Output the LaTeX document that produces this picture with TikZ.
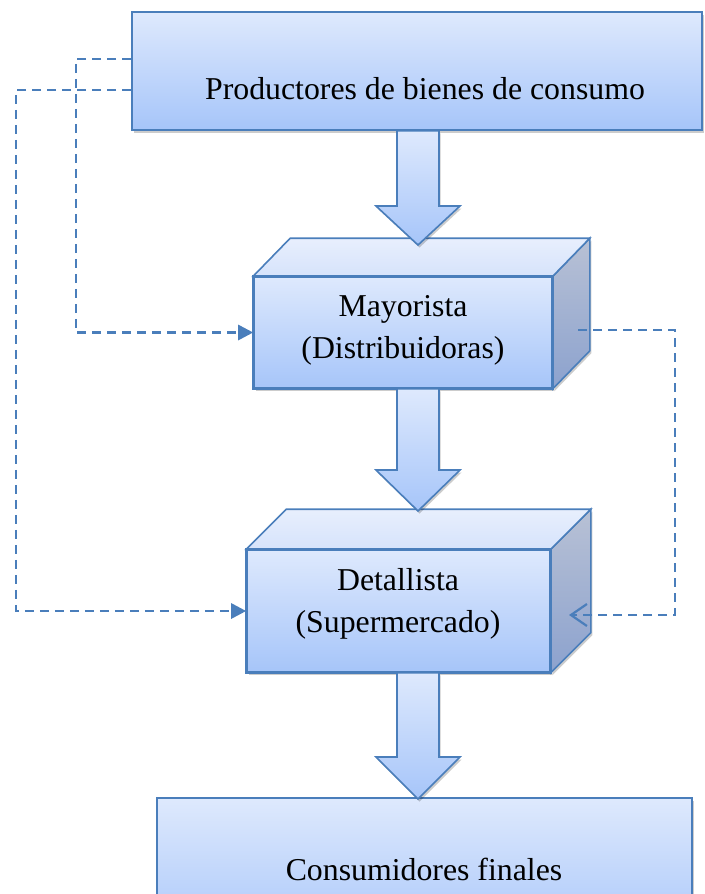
\documentclass[tikz,border=0pt]{standalone}
\usepackage{fontspec}
\setmainfont{Liberation Serif}
\usetikzlibrary{arrows.meta,calc,shadows}

\definecolor{edge}{RGB}{74,126,187}
\definecolor{fillhi}{RGB}{222,233,253}
\definecolor{filllo}{RGB}{166,197,249}
\definecolor{tophi}{RGB}{232,239,253}
\definecolor{toplo}{RGB}{214,227,251}
\definecolor{sidehi}{RGB}{184,193,213}
\definecolor{sidelo}{RGB}{140,162,206}

\tikzset{
  softshadow/.style={drop shadow={shadow xshift=1.5pt,shadow yshift=-2.5pt,fill=black,opacity=.2}},
  panel/.style={rectangle,draw=edge,line width=1.6pt,top color=fillhi,bottom color=filllo,inner sep=0pt,softshadow},
  cubetop/.style={draw=edge,line width=1.6pt,line join=miter,top color=tophi,bottom color=toplo},
  cubeside/.style={draw=edge,line width=1.6pt,line join=miter,top color=sidehi,bottom color=sidelo,softshadow},
  blockarrow/.style={draw=edge,line width=1.6pt,line join=miter,top color=fillhi,bottom color=filllo,softshadow},
  flow/.style={draw=edge,line width=2.8pt,dash pattern=on 9pt off 6pt},
  txt/.style={font=\fontsize{31.8}{42}\selectfont,inner sep=0pt,anchor=base}
}

% block arrow from the tail anchor #1 down to the tip #2, head length #3
\newcommand{\flowarrow}[3]{%
  \filldraw[blockarrow] let \p1=(#1), \p2=(#2) in
    (\x2-21pt,\y1) -- (\x2-21pt,\y2+#3) -- (\x2-42pt,\y2+#3) -- (\x2,\y2)
    -- (\x2+42pt,\y2+#3) -- (\x2+21pt,\y2+#3) -- (\x2+21pt,\y1) -- cycle;}

\begin{document}
\begin{tikzpicture}[x=1pt,y=-1pt]
\useasboundingbox (0,0) rectangle (704,894);
\clip (0,0) rectangle (704,894);

% producers
\node[panel,minimum width=570pt,minimum height=118pt] (prod) at (417,71) {};
\node[txt] (prodtxt) at (425,99) {Productores de bienes de consumo};

% wholesaler cube
\node[panel,minimum width=298pt,minimum height=111pt] (may) at (403,332.5) {};
\filldraw[cubeside] (may.north east) -- ++(37,-38) -- ($(may.south east)+(37,-38)$) -- (may.south east) -- cycle;
\filldraw[cubetop] (may.north west) -- ++(37,-38) -- ($(may.north east)+(37,-38)$) -- (may.north east) -- cycle;
\draw[edge,line width=1.6pt] (may.north west) rectangle (may.south east);
\node[txt] (maytxt) at (403,316) {Mayorista};
\node[txt] (maytxtb) at (403,358) {(Distribuidoras)};

% retailer cube
\node[panel,minimum width=303pt,minimum height=122pt] (det) at (398.5,611) {};
\filldraw[cubeside] (det.north east) -- ++(40,-40) -- ($(det.south east)+(40,-40)$) -- (det.south east) -- cycle;
\filldraw[cubetop] (det.north west) -- ++(40,-40) -- ($(det.north east)+(40,-40)$) -- (det.north east) -- cycle;
\draw[edge,line width=1.6pt] (det.north west) rectangle (det.south east);
\node[txt] (dettxt) at (398,590) {Detallista};
\node[txt] (dettxtb) at (398,632) {(Supermercado)};

% final consumers
\node[panel,minimum width=535pt,minimum height=150pt] (cons) at (424.5,873) {};
\node[txt] (constxt) at (424,880) {Consumidores finales};

% block arrows between the stages
\coordinate (maytip) at (418,245);
\coordinate (dettip) at (418,511);
\coordinate (constip) at (418,799);
\flowarrow{prod.south}{maytip}{39pt}
\flowarrow{may.south}{dettip}{41pt}
\flowarrow{det.south}{constip}{42pt}

% dashed direct channels
\coordinate (mayside) at (578,330);
\coordinate (detside) at (569,615);
\draw[flow,-{Triangle[length=15pt,width=15pt]}] (prod.west |- 0,59) -- (76,59) |- (may.west);
\draw[flow,-{Triangle[length=15pt,width=15pt]}] (prod.west |- 0,90) -- (16,90) |- (det.west);
\draw[flow,-{Straight Barb[length=16pt,width=22pt,line width=2.2pt]}] (mayside) -- (675,330) |- (detside);
\end{tikzpicture}
\end{document}
